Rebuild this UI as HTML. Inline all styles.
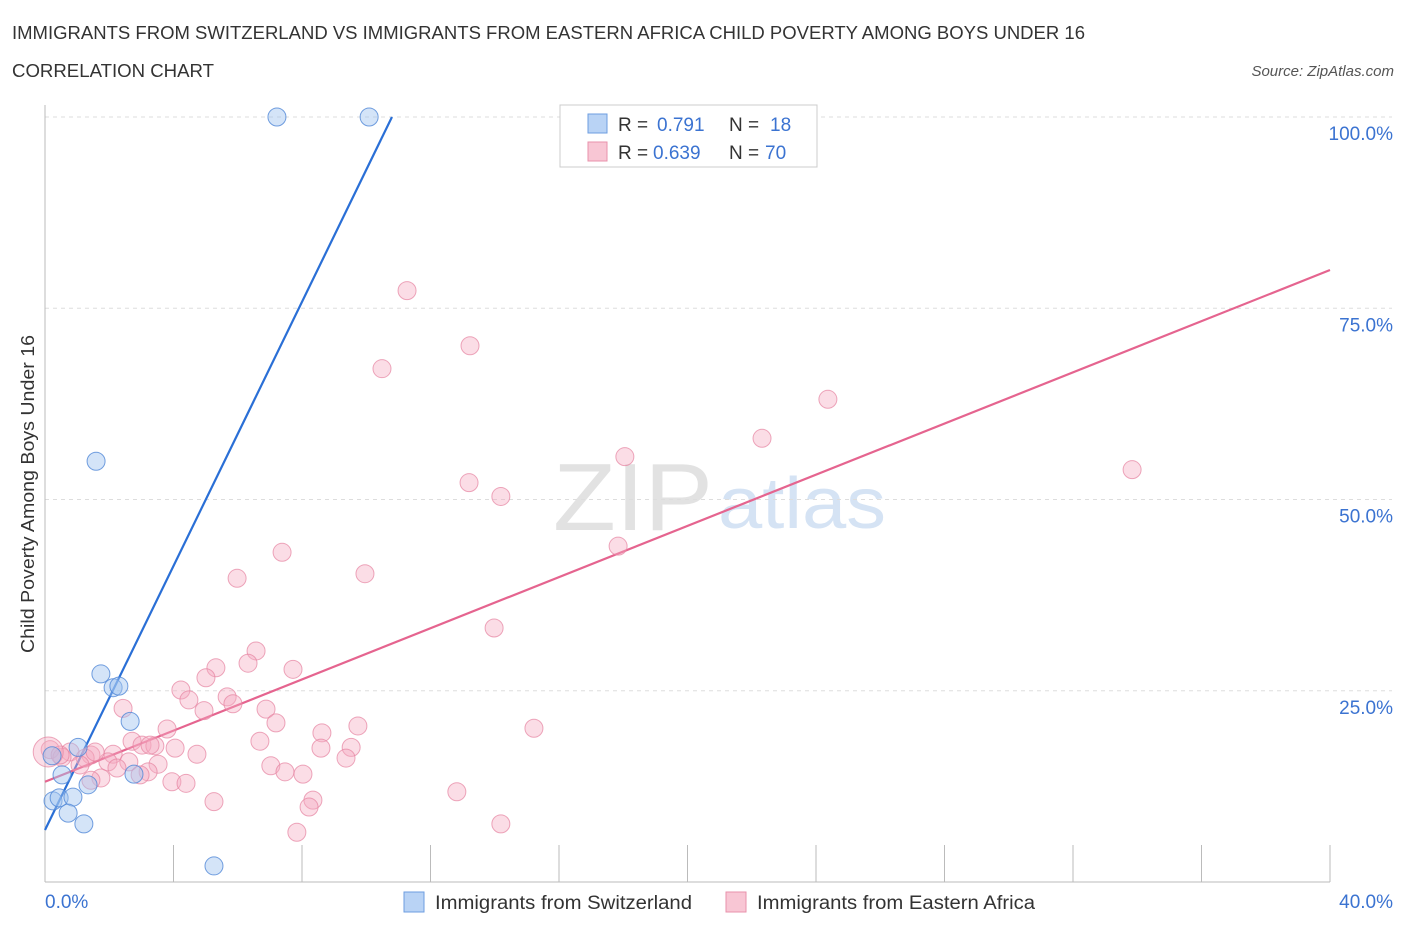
<!DOCTYPE html>
<html><head><meta charset="utf-8"><style>
body{margin:0;background:#fff;font-family:"Liberation Sans",sans-serif;}
svg text{font-family:"Liberation Sans",sans-serif;}
</style></head><body>
<svg id="chart" width="1406" height="930" xmlns="http://www.w3.org/2000/svg">
<text x="12" y="39" font-size="18" fill="#333" textLength="1073" lengthAdjust="spacingAndGlyphs">IMMIGRANTS FROM SWITZERLAND VS IMMIGRANTS FROM EASTERN AFRICA CHILD POVERTY AMONG BOYS UNDER 16</text>
<text x="12" y="77" font-size="18" fill="#333" textLength="202" lengthAdjust="spacingAndGlyphs">CORRELATION CHART</text>
<text x="1394" y="76" font-size="15" fill="#555" text-anchor="end" font-style="italic">Source: ZipAtlas.com</text>
<g>
<text x="553" y="530" font-size="96" fill="#e2e2e2" font-family="Liberation Serif" textLength="160" lengthAdjust="spacingAndGlyphs">ZIP</text>
<text x="718" y="528" font-size="72" fill="#d5e3f4" textLength="168" lengthAdjust="spacingAndGlyphs">atlas</text>
</g>
<g id="grid"></g>
<g id="axes"></g>
<g id="lines"></g>
<g id="pts"></g>
<g>
<rect x="560" y="105" width="257" height="62" fill="#fff" stroke="#ccc"/>
<rect x="588" y="114" width="19" height="19" fill="#b9d3f5" stroke="#6d9ee0"/>
<text x="618" y="131" font-size="19" fill="#333">R =</text>
<text x="657" y="131" font-size="19" fill="#3b73d1">0.791</text>
<text x="729" y="131" font-size="19" fill="#333">N =</text>
<text x="770" y="131" font-size="19" fill="#3b73d1">18</text>
<rect x="588" y="142" width="19" height="19" fill="#f8c6d4" stroke="#e892ab"/>
<text x="618" y="159" font-size="19" fill="#333">R =</text>
<text x="653" y="159" font-size="19" fill="#3b73d1">0.639</text>
<text x="729" y="159" font-size="19" fill="#333">N =</text>
<text x="765" y="159" font-size="19" fill="#3b73d1">70</text>
</g>
<g>
<rect x="404" y="892" width="20" height="20" fill="#b9d3f5" stroke="#6d9ee0"/>
<text x="435" y="909" font-size="19" fill="#333" textLength="257" lengthAdjust="spacingAndGlyphs">Immigrants from Switzerland</text>
<rect x="726" y="892" width="20" height="20" fill="#f8c6d4" stroke="#e892ab"/>
<text x="757" y="909" font-size="19" fill="#333" textLength="278" lengthAdjust="spacingAndGlyphs">Immigrants from Eastern Africa</text>
</g>
<text transform="translate(34,494) rotate(-90)" font-size="18" fill="#333" text-anchor="middle" textLength="318" lengthAdjust="spacingAndGlyphs">Child Poverty Among Boys Under 16</text>
</svg>
<script>
const yTicks=[25,50,75,100];
const yTickLabels=["25.0%","50.0%","75.0%","100.0%"];
const xTicks=[0,4,8,12,16,20,24,28,32,36,40];
const blueX=[7.22,10.09,1.59,1.74,2.12,2.30,2.65,0.22,1.03,0.53,2.77,1.34,0.25,0.44,0.87,0.72,1.21,5.26];
const blueY=[100,100,55.0,27.2,25.4,25.6,21.0,16.5,17.6,14.0,14.1,12.7,10.6,11.0,11.1,9.0,7.6,2.1];
const pinkX=[11.27,13.23,10.49,24.37,22.32,18.05,33.84,13.20,14.19,17.84,7.38,9.96,5.98,13.98,6.57,6.32,5.32,7.72,5.01,4.23,4.48,5.67,5.85,4.95,6.88,2.43,7.19,9.74,3.80,8.62,15.22,6.69,9.53,8.59,2.71,3.02,3.42,4.05,2.12,4.73,9.37,1.43,0.78,0.16,0.53,1.25,1.96,2.61,3.52,7.03,2.24,3.21,7.47,8.03,1.74,3.95,4.39,1.43,12.82,5.26,8.34,8.22,14.19,7.84,0.47,1.09,1.56,3.27,2.96,0.1];
const pinkY=[77.3,70.1,67.1,63.1,58.0,55.6,53.9,52.2,50.4,43.9,43.1,40.3,39.7,33.2,30.2,28.6,28.0,27.8,26.7,25.1,23.8,24.2,23.3,22.4,22.6,22.7,20.8,20.4,20.0,19.5,20.1,18.4,17.6,17.5,18.4,17.9,17.8,17.5,16.7,16.7,16.2,16.6,17.0,17.3,16.3,16.2,15.7,15.7,15.4,15.2,14.9,14.4,14.4,14.1,13.6,13.1,12.9,13.3,11.8,10.5,10.7,9.8,7.6,6.5,16.6,15.3,17.0,17.9,14.0,17.0];
const blueLine=[[0,6.8],[10.8,100]];
const pinkLine=[[0,13.1],[40,80.0]];
const NS="http://www.w3.org/2000/svg";
const X=v=>45+v/40*1285, Y=v=>882-v/100*765;
function mk(t,a,p){const e=document.createElementNS(NS,t);for(const k in a)e.setAttribute(k,a[k]);p.appendChild(e);return e;}
const grid=document.getElementById('grid'),axes=document.getElementById('axes'),lines=document.getElementById('lines'),pts=document.getElementById('pts');
yTicks.forEach((t,i)=>{const l=mk('line',{x1:45,x2:1392,y1:Y(t),y2:Y(t),stroke:'#ddd','stroke-dasharray':'4,4'},grid);


const tx=mk('text',{x:1393,y:Y(t)+23,'font-size':19,fill:'#3b73d1','text-anchor':'end'},axes);tx.textContent=yTickLabels[i];

});
mk('line',{x1:45,x2:45,y1:105,y2:882,stroke:'#bbb'},axes);
mk('line',{x1:45,x2:1330,y1:882,y2:882,stroke:'#bbb'},axes);
xTicks.forEach(t=>{const l=mk('line',{x1:X(t),x2:X(t),y1:845,y2:882,stroke:'#bbb'},axes);

});
let t0=mk('text',{x:45,y:908,'font-size':19,fill:'#3b73d1'},axes);t0.textContent='0.0%';


let t1=mk('text',{x:1393,y:908,'font-size':19,fill:'#3b73d1','text-anchor':'end'},axes);t1.textContent='40.0%';


pinkX.forEach((x,i)=>{const c=mk('circle',{cx:X(x),cy:Y(pinkY[i]),r:i==pinkX.length-1?15:9,fill:'rgba(244,170,192,0.4)',stroke:'rgba(230,130,160,0.7)'},pts);

});
blueX.forEach((x,i)=>{const c=mk('circle',{cx:X(x),cy:Y(blueY[i]),r:9,fill:'rgba(160,195,240,0.45)',stroke:'rgba(80,135,215,0.8)'},pts);

});
const lb=mk('line',{x1:X(blueLine[0][0]),y1:Y(blueLine[0][1]),x2:X(blueLine[1][0]),y2:Y(blueLine[1][1]),stroke:'#2a6fd6','stroke-width':2.2},lines);


const lp=mk('line',{x1:X(pinkLine[0][0]),y1:Y(pinkLine[0][1]),x2:X(pinkLine[1][0]),y2:Y(pinkLine[1][1]),stroke:'#e5648f','stroke-width':2.2},lines);


</script>
</body></html>
